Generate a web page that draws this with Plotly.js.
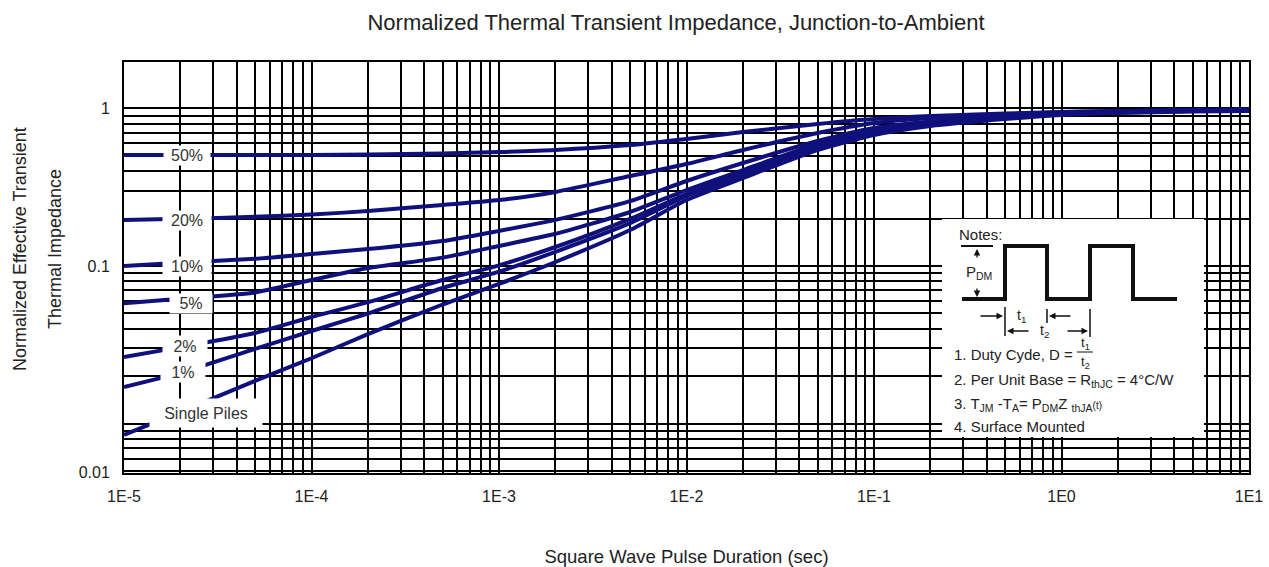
<!DOCTYPE html>
<html>
<head>
<meta charset="utf-8">
<script src="https://cdn.plot.ly/plotly-3.0.1.min.js"></script>
<style>html,body{margin:0;padding:0;background:#fff;}#chart{width:1269px;height:567px;}</style>
</head>
<body>
<div id="chart"></div>
<script>
// ---- Data ----
const pulseDuration = [1e-5, 2e-5, 5e-5, 1e-4, 2e-4, 5e-4, 1e-3, 2e-3, 5e-3, 1e-2, 2e-2, 5e-2, 0.1, 0.2, 0.5, 1, 2, 5, 10];
const duty50 = [0.506, 0.506, 0.506, 0.506, 0.509, 0.517, 0.528, 0.544, 0.585, 0.639, 0.707, 0.795, 0.855, 0.894, 0.927, 0.947, 0.961, 0.976, 0.983];
const duty20 = [0.196, 0.199, 0.205, 0.212, 0.223, 0.244, 0.262, 0.295, 0.372, 0.443, 0.544, 0.697, 0.807, 0.868, 0.914, 0.947, 0.961, 0.976, 0.983];
const duty10 = [0.100, 0.105, 0.111, 0.119, 0.128, 0.144, 0.167, 0.196, 0.258, 0.346, 0.450, 0.620, 0.750, 0.825, 0.894, 0.934, 0.954, 0.968, 0.976];
const duty5  = [0.058, 0.062, 0.068, 0.0815, 0.097, 0.113, 0.134, 0.160, 0.220, 0.303, 0.406, 0.594, 0.728, 0.807, 0.881, 0.927, 0.947, 0.968, 0.976];
const duty2  = [0.0265, 0.0306, 0.0376, 0.0475, 0.059, 0.0815, 0.101, 0.132, 0.199, 0.286, 0.389, 0.577, 0.707, 0.795, 0.874, 0.920, 0.947, 0.961, 0.968];
const duty1  = [0.0171, 0.021, 0.0298, 0.0387, 0.050, 0.0725, 0.092, 0.123, 0.187, 0.278, 0.378, 0.560, 0.697, 0.784, 0.868, 0.914, 0.941, 0.961, 0.968];
const singlePulse = [0.0085, 0.0119, 0.0187, 0.026, 0.037, 0.057, 0.077, 0.106, 0.169, 0.262, 0.361, 0.544, 0.677, 0.772, 0.855, 0.907, 0.934, 0.954, 0.961];

const seriesNames = ['50%', '20%', '10%', '5%', '2%', '1%', 'Single Piles'];
const seriesValues = [duty50, duty20, duty10, duty5, duty2, duty1, singlePulse];

// Tick labels
const xDecadeLabels = ['1E-5', '1E-4', '1E-3', '1E-2', '1E-1', '1E0', '1E1'];
const yLabelText = ['1', '0.1', '0.01'];
const yLabelVals = [1, 0.1, 0.00488];

// ---- Grid / tick arrays ----
const xTickVals = [], xTickText = [];
for (let k = -5; k <= 0; k++) {
  for (let m = 1; m <= 9; m++) {
    xTickVals.push(m * Math.pow(10, k));
    xTickText.push(m === 1 ? xDecadeLabels[k + 5] : ' ');
  }
}
xTickVals.push(10); xTickText.push(xDecadeLabels[6]);

const yTickVals = [], yTickText = [];
for (let k = -3; k <= -1; k++) {
  for (let m = 1; m <= 9; m++) {
    const v = m * Math.pow(10, k);
    if (v < 0.005) continue;
    yTickVals.push(v);
    yTickText.push(k === -1 && m === 1 ? yLabelText[1] : ' ');
  }
}
yTickVals.push(yLabelVals[0]); yTickText.push(yLabelText[0]);
yTickVals.push(yLabelVals[2]); yTickText.push(yLabelText[2]);

// ---- pixel -> paper helpers for decorations ----
const PL = 124, PW = 1125, PB = 473, PH = 411;
const px = x => (x - PL) / PW;
const py = y => (PB - y) / PH;

const FONT = 'Liberation Sans, Arial, Helvetica, sans-serif';
const TXT = '#222222';
const NAVY = '#10107c';

const traces = seriesValues.map((vals, i) => ({
  type: 'scatter', mode: 'lines', name: seriesNames[i],
  x: pulseDuration, y: vals,
  line: {color: NAVY, width: 4, shape: 'spline', smoothing: 0.6},
  hoverinfo: 'x+y+name'
}));

// curve label annotations (white boxes)
const labelBoxes = [
  {t: '50%', x: 186.5, y: 155.5, w: 46, h: 19},
  {t: '20%', x: 187, y: 220, w: 48, h: 19},
  {t: '10%', x: 187, y: 266.5, w: 48, h: 19},
  {t: '5%', x: 191, y: 303.5, w: 42, h: 19},
  {t: '2%', x: 185, y: 346, w: 44, h: 20},
  {t: '1%', x: 183, y: 372, w: 44, h: 20},
  {t: 'Single Piles', x: 206, y: 413, w: 112, h: 28}
];
const annotations = labelBoxes.map(b => ({
  xref: 'paper', yref: 'paper', x: px(b.x), y: py(b.y), xanchor: 'center', yanchor: 'middle',
  text: b.t, showarrow: false, bgcolor: '#ffffff', width: b.w, height: b.h, borderpad: 0,
  font: {family: FONT, size: 16, color: '#333'}
}));

function txt(t, x, y, size, anchor, extra) {
  return Object.assign({xref: 'paper', yref: 'paper', x: px(x), y: py(y), xanchor: anchor || 'left', yanchor: 'middle',
    text: t, showarrow: false, font: {family: FONT, size: size, color: TXT}}, extra || {});
}
function arrow(hx, hy, tx, ty) {
  return {xref: 'paper', yref: 'paper', x: px(hx), y: py(hy), ax: tx - hx, ay: ty - hy,
    axref: 'pixel', ayref: 'pixel', text: '', showarrow: true, arrowhead: 2, arrowsize: 1,
    arrowwidth: 1.3, arrowcolor: '#111', standoff: 0, startstandoff: 0};
}

// Y axis title (two lines, drawn as rotated text)
annotations.push(txt('Normalized Effective Transient', 20, 249, 18, 'center', {textangle: -90}));
annotations.push(txt('Thermal Impedance', 55, 249, 18, 'center', {textangle: -90}));

// Notes box text
annotations.push(txt('Notes:', 957, 234, 15, 'left'));
annotations.push(txt('P<sub>DM</sub>', 979, 272, 15, 'center'));
annotations.push(txt('t<sub>1</sub>', 1021, 316, 14, 'center'));
annotations.push(txt('t<sub>2</sub>', 1044, 331, 14, 'center'));
annotations.push(txt('1. Duty Cyde, D =', 952, 354, 15, 'left'));
annotations.push(txt('t<sub>1</sub>', 1085, 343, 13, 'center'));
annotations.push(txt('t<sub>2</sub>', 1085, 362, 13, 'center'));
annotations.push(txt('2. Per Unit Base = R<sub>thJC</sub> = 4°C/W', 952, 380, 15, 'left'));
annotations.push(txt('3. T<sub>JM</sub> -T<sub>A</sub>= P<sub>DM</sub>Z <sub>thJA</sub><span style="font-size:10px">(t)</span>', 952, 404, 15, 'left'));
annotations.push(txt('4. Surface Mounted', 952, 426, 15, 'left'));
// dimension arrows
annotations.push(arrow(977, 249, 977, 259));
annotations.push(arrow(977, 297, 977, 287));
annotations.push(arrow(1003, 316, 979, 316));
annotations.push(arrow(1049, 316, 1072, 316));
annotations.push(arrow(1007, 331, 1030, 331));
annotations.push(arrow(1088, 331, 1066, 331));

// Shapes: notes box, waveform, dimension bars
const wave = [[962,299],[1005,299],[1005,246],[1047,246],[1047,299],[1090,299],[1090,246],[1133,246],[1133,299],[1177,299]];
const wavePath = wave.map((p, i) => (i ? 'L' : 'M') + px(p[0]).toFixed(5) + ',' + py(p[1]).toFixed(5)).join(' ');
function seg(x0, y0, x1, y1, w, c) {
  return {type: 'line', xref: 'paper', yref: 'paper', x0: px(x0), y0: py(y0), x1: px(x1), y1: py(y1),
    line: {color: c || '#111', width: w}, layer: 'above'};
}
const shapes = [
  {type: 'rect', xref: 'paper', yref: 'paper', x0: px(942), x1: px(1204), y0: py(437), y1: py(219),
   fillcolor: '#ffffff', line: {width: 0}, layer: 'above'},
  {type: 'path', xref: 'paper', yref: 'paper', path: wavePath, line: {color: '#111', width: 4}, layer: 'above'},
  seg(961, 246, 993, 246, 2),
  seg(1005, 307, 1005, 336, 1.5),
  seg(1047, 309, 1047, 323, 1.5),
  seg(1090, 309, 1090, 337, 1.5),
  seg(1077, 352, 1093, 352, 1),
  seg(162, 381.5, 204, 381.5, 1, '#bbbbbb')
];

const layout = {
  width: 1269, height: 567,
  margin: {l: PL, r: 1269 - PL - PW, t: 62, b: 567 - PB},
  paper_bgcolor: '#ffffff', plot_bgcolor: '#ffffff',
  showlegend: false,
  font: {family: FONT, color: TXT},
  title: {text: 'Normalized Thermal Transient Impedance, Junction-to-Ambient',
    font: {family: FONT, size: 22, color: TXT}, xref: 'paper', x: (676 - PL) / PW, xanchor: 'center',
    yref: 'container', y: 1 - 22 / 567, yanchor: 'middle'},
  xaxis: {
    type: 'log', range: [-5, 1], tickmode: 'array', tickvals: xTickVals, ticktext: xTickText, tickangle: 0,
    showgrid: true, gridcolor: '#000', gridwidth: 2, zeroline: false,
    showline: true, mirror: true, linecolor: '#000', linewidth: 2,
    ticks: 'outside', ticklen: 8, tickcolor: 'rgba(0,0,0,0)',
    tickfont: {family: FONT, size: 16, color: TXT},
    title: {text: 'Square Wave Pulse Duration (sec)', font: {family: FONT, size: 18.5, color: TXT}, standoff: 46}
  },
  yaxis: {
    type: 'log', range: [-2.3126, 0.2936], tickmode: 'array', tickvals: yTickVals, ticktext: yTickText,
    showgrid: true, gridcolor: '#000', gridwidth: 2, zeroline: false,
    showline: true, mirror: true, linecolor: '#000', linewidth: 2,
    ticks: 'outside', ticklen: 9, tickcolor: 'rgba(0,0,0,0)',
    tickfont: {family: FONT, size: 16, color: TXT}
  },
  annotations: annotations,
  shapes: shapes
};

Plotly.newPlot('chart', traces, layout, {displayModeBar: false, staticPlot: true});
</script>
</body>
</html>
